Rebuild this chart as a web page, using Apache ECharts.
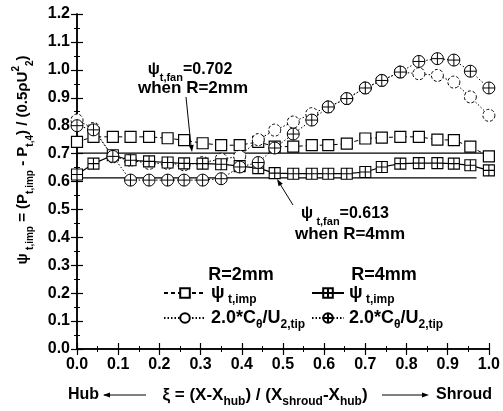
<!DOCTYPE html>
<html>
<head>
<meta charset="utf-8">
<script src="https://cdn.jsdelivr.net/npm/echarts@6/dist/echarts.min.js"></script>
<style>
  html, body { margin: 0; padding: 0; background: #fff; }
  #chart { width: 503px; height: 411px; }
</style>
</head>
<body>
<div id="chart"></div>
<script>
// measuring stations, xi = 0 hub .. 1 shroud
var xi = [0, 0.04, 0.087, 0.13, 0.175, 0.22, 0.26, 0.305, 0.35, 0.395, 0.44, 0.48,
          0.525, 0.57, 0.61, 0.655, 0.70, 0.74, 0.785, 0.83, 0.875, 0.915, 0.955, 1.0];
// R = 2mm
var psiImpR2 = [0.742, 0.760, 0.760, 0.760, 0.760, 0.755, 0.748, 0.737, 0.730, 0.730, 0.742, 0.725,
                0.725, 0.730, 0.730, 0.736, 0.754, 0.757, 0.760, 0.760, 0.750, 0.748, 0.725, 0.690];
var cThetaR2 = [0.820, 0.790, 0.688, 0.676, 0.665, 0.665, 0.660, 0.668, 0.680, 0.690, 0.750, 0.784,
                0.813, 0.843, 0.867, 0.897, 0.935, 0.962, 0.992, 0.986, 0.980, 0.956, 0.903, 0.837];
// R = 4mm
var psiImpR4 = [0.625, 0.664, 0.694, 0.676, 0.672, 0.668, 0.665, 0.664, 0.662, 0.655, 0.648, 0.630,
                0.628, 0.628, 0.628, 0.628, 0.634, 0.652, 0.664, 0.666, 0.666, 0.664, 0.658, 0.640];
var cThetaR4 = [0.800, 0.785, 0.690, 0.605, 0.605, 0.605, 0.605, 0.605, 0.610, 0.652, 0.668, 0.720,
                0.770, 0.820, 0.867, 0.897, 0.935, 0.962, 0.992, 1.030, 1.040, 1.035, 0.995, 0.935];
// fan total head coefficients
var psiFanR2 = 0.702;
var psiFanR4 = 0.613;

var FONT = "'Liberation Sans', Arial, sans-serif";

function pairs(ys) {
  return xi.map(function (x, i) { return [x, ys[i]]; });
}

// rich text styles: n = normal, s = subscript, sup = superscript
function makeRich(big, small, lh) {
  return {
    n: { fontSize: big, fontWeight: 'bold', fontFamily: FONT, lineHeight: lh },
    s: { fontSize: small, fontWeight: 'bold', fontFamily: FONT, verticalAlign: 'bottom', lineHeight: small + 2 },
    sup: { fontSize: small, fontWeight: 'bold', fontFamily: FONT, verticalAlign: 'top', lineHeight: small + 2 }
  };
}
var richY = makeRich(15, 10, 24);
var richX = makeRich(17, 12, 26);
var richAnn = makeRich(16, 11, 26);
var richLeg = makeRich(18, 12, 26);

var boxCross = 'path://M0,0H10V10H0Z M5,0V10 M0,5H10';
var circCross = 'path://M10,5A5,5,0,1,1,0,5A5,5,0,1,1,10,5Z M5,0V10 M0,5H10';

var legendNames = {
  'psi R2': '{n|ψ} {s|t,imp}',
  'c R2': '{n|2.0*C}{s|θ}{n|/U}{s|2,tip}',
  'psi R4': '{n|ψ} {s|t,imp}',
  'c R4': '{n|2.0*C}{s|θ}{n|/U}{s|2,tip}'
};

function axisX(pos, labels) {
  return {
    type: 'value', position: pos, min: 0, max: 1, interval: 0.1,
    axisLine: { lineStyle: { color: '#000', width: 1.5 } },
    axisTick: { inside: true, length: 6, lineStyle: { color: '#000', width: 1.2 } },
    minorTick: { show: true, splitNumber: 2, length: 3, lineStyle: { color: '#000' } },
    splitLine: { show: false },
    axisLabel: {
      show: labels, margin: 8, color: '#000', fontSize: 16, fontWeight: 'bold', fontFamily: FONT,
      formatter: function (v) { return v.toFixed(1); }
    }
  };
}
function axisY(pos, labels) {
  return {
    type: 'value', position: pos, min: 0, max: 1.2, interval: 0.1,
    axisLine: { show: true, lineStyle: { color: '#000', width: 1.5 } },
    axisTick: { show: true, inside: true, length: 6, lineStyle: { color: '#000', width: 1.2 } },
    minorTick: { show: true, splitNumber: 2, length: 3, lineStyle: { color: '#000' } },
    splitLine: { show: false },
    axisLabel: {
      show: labels, margin: 7, color: '#000', fontSize: 16, fontWeight: 'bold', fontFamily: FONT,
      formatter: function (v) { return v.toFixed(1); }
    }
  };
}

function arrowHead(x, y, ang) {
  // small filled triangle pointing along ang
  var L = 7, W = 2.5;
  var bx = x - L * Math.cos(ang), by = y - L * Math.sin(ang);
  return {
    type: 'polygon',
    shape: { points: [[x, y], [bx - W * Math.sin(ang), by + W * Math.cos(ang)], [bx + W * Math.sin(ang), by - W * Math.cos(ang)]] },
    style: { fill: '#000' }
  };
}

var chart = echarts.init(document.getElementById('chart'));
chart.setOption({
  backgroundColor: '#fff',
  animation: false,
  grid: { left: 77, right: 13, top: 14, bottom: 62 },
  xAxis: [axisX('bottom', true), axisX('top', false)],
  yAxis: [axisY('left', true), axisY('right', false)],
  legend: [
    {
      data: ['psi R2', 'c R2'], orient: 'vertical', left: 158, top: 279,
      itemWidth: 42, itemHeight: 12, itemGap: 3,
      formatter: function (n) { return legendNames[n]; },
      textStyle: { color: '#000', rich: richLeg }
    },
    {
      data: ['psi R4', 'c R4'], orient: 'vertical', left: 306, top: 279,
      itemWidth: 32, itemHeight: 12, itemGap: 3,
      formatter: function (n) { return legendNames[n]; },
      textStyle: { color: '#000', rich: richLeg }
    }
  ],
  series: [
    {
      name: 'fan R2', type: 'line', data: [[0, psiFanR2], [1, psiFanR2]], showSymbol: false,
      lineStyle: { color: '#000', width: 1.2 }, silent: true
    },
    {
      name: 'fan R4', type: 'line', data: [[0, psiFanR4], [0.97, psiFanR4]], showSymbol: false,
      lineStyle: { color: '#000', width: 1.2 }, silent: true
    },
    {
      name: 'psi R2', type: 'line', data: pairs(psiImpR2),
      symbol: 'rect', symbolSize: 11,
      lineStyle: { color: '#000', width: 1, type: [4, 3] },
      itemStyle: { color: '#fff', borderColor: '#000', borderWidth: 1.2 }
    },
    {
      name: 'c R2', type: 'line', data: pairs(cThetaR2),
      symbol: 'circle', symbolSize: 12,
      lineStyle: { color: '#000', width: 1, type: [1.5, 2] },
      itemStyle: { color: '#fff', borderColor: '#000', borderWidth: 1, borderType: [3, 2] }
    },
    {
      name: 'psi R4', type: 'line', data: pairs(psiImpR4),
      symbol: boxCross, symbolSize: 11,
      lineStyle: { color: '#000', width: 1.2 },
      itemStyle: { color: '#fff', borderColor: '#000', borderWidth: 1.1 }
    },
    {
      name: 'c R4', type: 'line', data: pairs(cThetaR4),
      symbol: circCross, symbolSize: 12,
      lineStyle: { color: '#000', width: 1, type: [1.5, 2] },
      itemStyle: { color: '#fff', borderColor: '#000', borderWidth: 1 }
    }
  ],
  graphic: [
    // y axis title
    {
      type: 'text', x: 23, y: 160, rotation: Math.PI / 2,
      style: {
        text: '{n|ψ} {s|t,imp}{n| = (P}{s|t,imp}{n| - P}{s|t,4}{n|) / (0.5ρU}{sup|2}{s|2}{n|)}',
        rich: richY, fill: '#000', align: 'center', verticalAlign: 'middle'
      }
    },
    // x axis title
    { type: 'text', x: 68, y: 395, style: { text: 'Hub', font: 'bold 16px ' + FONT, fill: '#000', align: 'left', verticalAlign: 'middle' } },
    { type: 'line', shape: { x1: 104, y1: 395, x2: 146, y2: 395 }, style: { stroke: '#000', lineWidth: 1.2 } },
    arrowHead(103, 395, Math.PI),
    {
      type: 'text', x: 265, y: 395,
      style: {
        text: '{n|ξ = (X-X}{s|hub}{n|) / (X}{s|shroud}{n|-X}{s|hub}{n|)}',
        rich: richX, fill: '#000', align: 'center', verticalAlign: 'middle'
      }
    },
    { type: 'line', shape: { x1: 382, y1: 395, x2: 425, y2: 395 }, style: { stroke: '#000', lineWidth: 1.2 } },
    arrowHead(429, 395, 0),
    { type: 'text', x: 492, y: 395, style: { text: 'Shroud', font: 'bold 16px ' + FONT, fill: '#000', align: 'right', verticalAlign: 'middle' } },
    // annotation R=2mm
    {
      type: 'text', x: 190, y: 70,
      style: { text: '{n|ψ}{s|t,fan}{n|=0.702}', rich: richAnn, fill: '#000', align: 'center', verticalAlign: 'middle' }
    },
    { type: 'text', x: 193, y: 88, style: { text: 'when R=2mm', font: 'bold 17px ' + FONT, fill: '#000', align: 'center', verticalAlign: 'middle' } },
    { type: 'line', shape: { x1: 186, y1: 97, x2: 191, y2: 146 }, style: { stroke: '#000', lineWidth: 1 } },
    arrowHead(192, 152, Math.atan2(55, 6)),
    // annotation R=4mm
    {
      type: 'text', x: 345, y: 214,
      style: { text: '{n|ψ} {s|t,fan}{n|=0.613}', rich: richAnn, fill: '#000', align: 'center', verticalAlign: 'middle' }
    },
    { type: 'text', x: 350, y: 234, style: { text: 'when R=4mm', font: 'bold 17px ' + FONT, fill: '#000', align: 'center', verticalAlign: 'middle' } },
    { type: 'line', shape: { x1: 293, y1: 205, x2: 280, y2: 184 }, style: { stroke: '#000', lineWidth: 1 } },
    arrowHead(277, 179, Math.atan2(-26, -16)),
    // legend headers
    { type: 'text', x: 241, y: 275, style: { text: 'R=2mm', font: 'bold 18px ' + FONT, fill: '#000', align: 'center', verticalAlign: 'middle' } },
    { type: 'text', x: 384, y: 275, style: { text: 'R=4mm', font: 'bold 18px ' + FONT, fill: '#000', align: 'center', verticalAlign: 'middle' } }
  ]
});
</script>
</body>
</html>
